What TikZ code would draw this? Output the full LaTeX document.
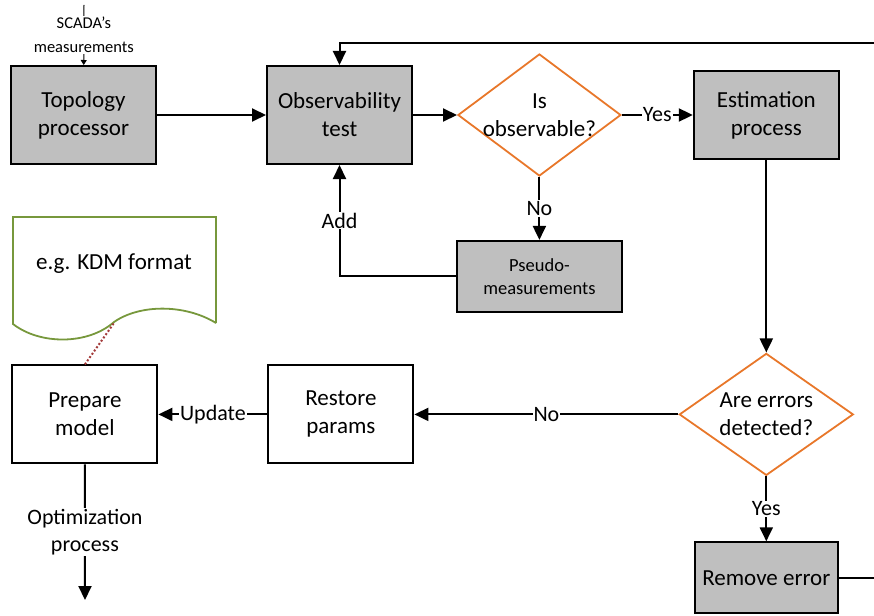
\documentclass[tikz,border=0pt]{standalone}
\usepackage{fontspec}
\setmainfont{Carlito}
\usepackage{tikz}
\usetikzlibrary{arrows.meta}
\usetikzlibrary{calc,positioning,shapes.geometric}

\definecolor{boxgray}{HTML}{BFBFBF}
\definecolor{decorange}{HTML}{E8772A}
\definecolor{docgreen}{HTML}{77983C}
\definecolor{linkred}{HTML}{A33B3B}

\tikzset{
    procbox/.style={draw, line width=2pt, fill=boxgray, align=center,
        minimum width=145pt, minimum height=98pt, inner sep=0pt,
        font=\fontsize{23}{28}\selectfont},
    plainbox/.style={procbox, fill=white},
    decision/.style={diamond, draw=decorange, line width=1.8pt, inner sep=0pt,
        minimum width=163pt, minimum height=122pt},
    flow/.style={line width=2pt, -{Triangle[length=14pt,width=13pt]}},
    flowlabel/.style={fill=white, inner sep=1pt, font=\fontsize{22}{26}\selectfont},
}

\begin{document}
\begin{tikzpicture}[x=1pt, y=-1pt]
    \useasboundingbox (0,0) rectangle (874,615);

    \node[procbox] (topo) at (83.5,115) {Topology\\processor};
    \node[procbox, right=109pt of topo] (obs) {Observability\\test};
    \node[decision, right=44pt of obs,
        label={[align=center, font=\fontsize{23}{28}\selectfont]center:Is\\observable?}] (isobs) {};
    \node[procbox, right=71pt of isobs, minimum height=87pt] (est) {Estimation\\process};
    \node[procbox, below=63pt of isobs, minimum width=165pt, minimum height=71pt,
        font=\fontsize{18.5}{23}\selectfont] (pseudo) {Pseudo-\\measurements};

    \node[decision, minimum width=174pt, below=193pt of est,
        label={[align=center, font=\fontsize{23}{28}\selectfont]center:Are errors\\detected?}] (errors) {};
    \node[plainbox, left=264pt of errors] (restore) {Restore\\params};
    \node[plainbox, left=109pt of restore] (prep) {Prepare\\model};
    \node[procbox, below=65pt of errors, minimum width=143pt, minimum height=71pt] (remove) {Remove error};

    % document with wavy bottom
    \draw[docgreen, line width=1.8pt] (216,323) -- (216,217) -- (13,217) -- (13,324)
        .. controls (40,345) and (88,345) .. (114,322)
        .. controls (140,304) and (185,304) .. (216,323);
    \node[font=\fontsize{23}{28}\selectfont] (kdm) at (114,264) {e.g. KDM format};
    \coordinate (kdmwave) at (114,323);

    \coordinate (scada) at (84,5);
    \coordinate (feedback) at (874,43);
    \coordinate (errout) at (874,578);
    \coordinate (optout) at (85,600);

    \draw[line width=1pt, -{Triangle[length=5pt,width=6pt]}] (scada) --
        node[fill=white, inner sep=1pt, align=center, font=\fontsize{16.5}{24}\selectfont] {SCADA’s\\measurements} (topo);
    \draw[flow] (topo) -- (obs);
    \draw[flow] (obs) -- (isobs);
    \draw[flow] (isobs) -- node[flowlabel] {Yes} (est);
    \draw[flow] (isobs) -- node[flowlabel] {No} (pseudo);
    \draw[flow] (pseudo) -| node[flowlabel, pos=0.75] {Add} (obs);
    \draw[flow] (feedback) -| (obs);
    \draw[flow] (est) -- (errors);
    \draw[flow] (errors) -- node[flowlabel] {No} (restore);
    \draw[flow] (restore) -- node[flowlabel] {Update} (prep);
    \draw[flow] (errors) -- node[flowlabel] {Yes} (remove);
    \draw[line width=2pt] (remove.east) -- (remove.east -| errout);
    \draw[flow] (prep) -- node[flowlabel, align=center, font=\fontsize{22}{27}\selectfont]
        {Optimization\\process} (optout);
    \draw[linkred, line width=2pt, dash pattern=on 2pt off 2pt] (prep.north) -- (kdmwave);
\end{tikzpicture}
\end{document}
